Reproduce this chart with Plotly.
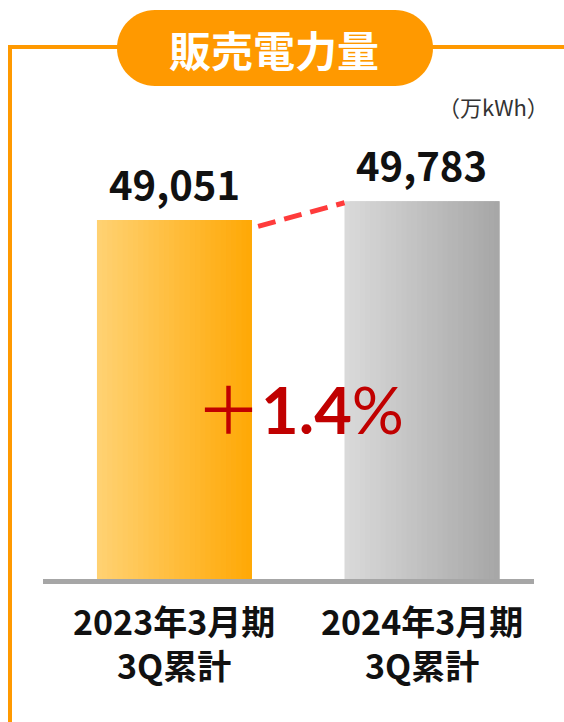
import plotly.graph_objects as go

# ---- data ----
categories = ["2023年3月期<br>3Q累計", "2024年3月期<br>3Q累計"]
values = [49051, 49783]
value_labels = ["49,051", "49,783"]
change_label = "＋<b>1.4</b>%"
title_text = "販売電力量"
unit_text = "（万kWh）"

# ---- style ----
W, H = 564, 722
ORANGE = "#FF9900"
left_colors = [(255, 210, 115), (218, 218, 218)]
right_colors = [(255, 168, 5), (166, 166, 166)]
BAR_W = 0.626
N = 30

def px(x):
    return x / W

def py(y):
    return 1 - y / H

def lerp(c1, c2, t):
    return "rgb(%d,%d,%d)" % tuple(round(a + (b - a) * t) for a, b in zip(c1, c2))

fig = go.Figure()
xs = list(range(len(values)))
for i in range(N):
    off = -BAR_W / 2 + i * BAR_W / N
    wid = min(2 * BAR_W / N, BAR_W / 2 - off)
    t = (i + 0.5) / N
    fig.add_trace(go.Bar(
        x=xs, y=values, width=[wid] * len(xs), offset=[off] * len(xs),
        marker=dict(color=[lerp(left_colors[k], right_colors[k], t) for k in xs],
                    line=dict(width=0)),
        showlegend=False, hoverinfo="skip"))

# dashed connector between bar tops
fig.add_trace(go.Scatter(
    x=[xs[0] + BAR_W / 2 + 0.025, xs[1] - BAR_W / 2],
    y=[values[0] - 250, values[1] - 60],
    mode="lines", line=dict(color="#FF3B3B", width=5, dash="18px,9px"),
    showlegend=False, hoverinfo="skip"))

annotations = []
for k, (v, lab) in enumerate(zip(values, value_labels)):
    annotations.append(dict(x=k, y=v, xref="x", yref="y", text=lab, showarrow=False,
                            yanchor="middle", yshift=37,
                            font=dict(family="Noto Sans CJK JP", size=40, color="#111111", weight="bold")))
for k, c in enumerate(categories):
    annotations.append(dict(x=k, y=py(642), xref="x", yref="paper", text=c, showarrow=False,
                            yanchor="middle", align="center",
                            font=dict(family="Noto Sans CJK JP", size=34, color="#111111", weight="bold")))
annotations.append(dict(x=px(300), y=py(409), xref="paper", yref="paper", text=change_label,
                        showarrow=False, xanchor="center", yanchor="middle",
                        font=dict(family="Lato, Noto Sans CJK JP", size=65, color="#C00000")))
annotations.append(dict(x=px(274), y=py(48), xref="paper", yref="paper", text=title_text,
                        showarrow=False, xanchor="center", yanchor="middle",
                        font=dict(family="Noto Sans CJK JP", size=42, color="white", weight="bold")))
annotations.append(dict(x=px(493), y=py(106), xref="paper", yref="paper", text=unit_text,
                        showarrow=False, xanchor="center", yanchor="middle",
                        font=dict(family="Noto Sans CJK JP", size=22, color="#333333")))

# frame and pill
r = 38; k = 0.5523 * r
L, R, T, B = 117, 433, 10, 86
cy = (T + B) / 2
pts = [
    ("M", [(L + r, T)]), ("L", [(R - r, T)]),
    ("C", [(R - r + k, T), (R, cy - k), (R, cy)]),
    ("C", [(R, cy + k), (R - r + k, B), (R - r, B)]),
    ("L", [(L + r, B)]),
    ("C", [(L + r - k, B), (L, cy + k), (L, cy)]),
    ("C", [(L, cy - k), (L + r - k, T), (L + r, T)]),
]
path = " ".join(cmd + " " + " ".join("%.5f,%.5f" % (px(a), py(b)) for a, b in p) for cmd, p in pts) + " Z"
shapes = [
    dict(type="path", xref="paper", yref="paper", path=path, fillcolor=ORANGE, line=dict(width=0), layer="above"),
    dict(type="line", xref="paper", yref="paper", x0=px(10), x1=px(10), y0=py(45), y1=py(722),
         line=dict(color=ORANGE, width=4)),
    dict(type="line", xref="paper", yref="paper", x0=px(8), x1=px(L + 5), y0=py(47), y1=py(47),
         line=dict(color=ORANGE, width=4)),
    dict(type="line", xref="paper", yref="paper", x0=px(R - 5), x1=px(564), y0=py(47), y1=py(47),
         line=dict(color=ORANGE, width=4)),
    dict(type="rect", xref="paper", yref="paper", x0=px(43), x1=px(534), y0=py(584), y1=py(579),
         fillcolor="#A6A6A6", line=dict(width=0), layer="above"),
]

PLOT_TOP, PLOT_BOT = 100, 579
Y0 = 35000
PER_PX = 39.13
fig.update_layout(
    width=W, height=H, margin=dict(l=0, r=0, t=0, b=0),
    paper_bgcolor="white", plot_bgcolor="white",
    barmode="overlay", showlegend=False,
    xaxis=dict(domain=[px(43), px(534)], range=[-0.531, 1.4525], visible=False, fixedrange=True),
    yaxis=dict(domain=[py(PLOT_BOT), py(PLOT_TOP)], range=[Y0, Y0 + (PLOT_BOT - PLOT_TOP) * PER_PX],
               visible=False, fixedrange=True),
    annotations=annotations, shapes=shapes,
)
fig.write_html("out.html", config={"displayModeBar": False},
               post_script="document.body.style.margin='0';document.body.style.overflow='hidden';")
